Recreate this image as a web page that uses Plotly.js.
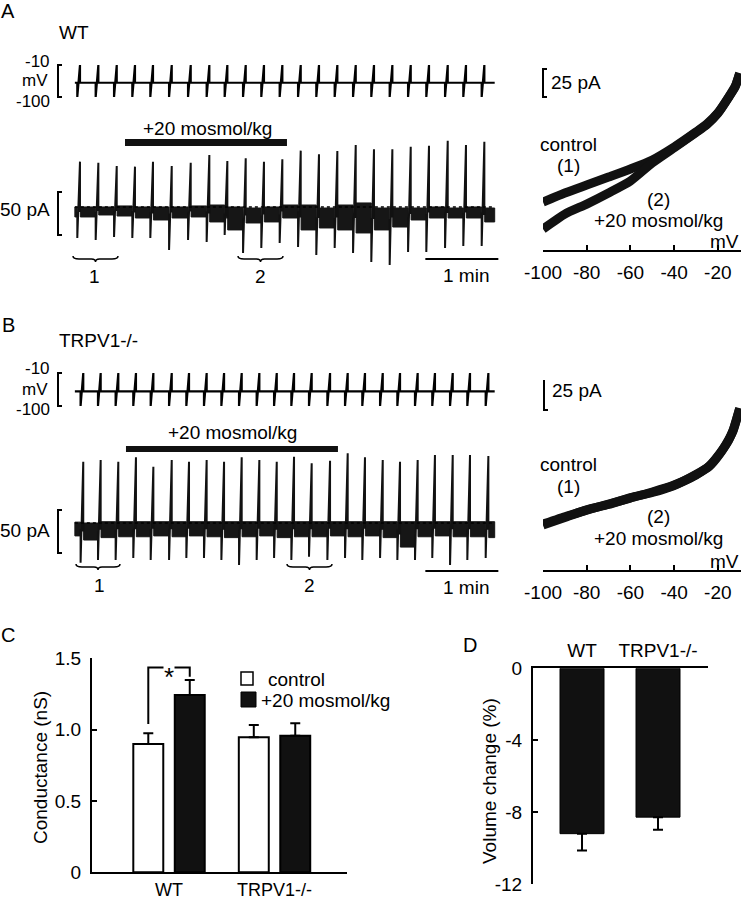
<!DOCTYPE html>
<html><head><meta charset="utf-8">
<script src="https://cdn.plot.ly/plotly-3.0.1.min.js"></script>
<style>html,body{margin:0;padding:0;background:#fff}#chart{width:741px;height:900px}</style>
</head><body><div id="chart"></div>
<script>
// ---------------- data ----------------
// Panel A (WT) – ramp sweeps, time of ramp end (s)
const sweepTimesA = [4.2,19.3,34.4,49.4,64.2,79.6,95.2,110.5,125.3,140.4,155.4,170.5,185.6,200.6,215.7,230.8,245.8,260.9,276.0,291.0,306.4,321.4,336.5];
const peakA   = [52.7,51.5,47.7,46.9,52.7,47.7,51.5,60.5,53.5,56.6,52.7,55.5,65.5,61.3,65.1,72.1,67.1,67.1,70.1,71.3,77.1,72.1,75.9];
const troughA = [-36,-38.4,-34.9,-36,-36,-50,-38.4,-40.7,-32.6,-53.5,-47.7,-41.9,-46.5,-55.8,-47.7,-53.5,-64,-67.4,-52.3,-52.3,-47.7,-45.3,-45.3];
// holding-current band between sweeps (pA): interval 0 = before sweep 1
const bandTopA = [0,0,0,1.2,0,0,0,1.2,2.3,0,-1.2,0,2.3,2.3,-1.2,2.3,4.7,-1.2,-1.2,-1.2,0,-1.2,0,-1.2];
const bandBotA = [-11.6,-11.6,-9.3,-10.5,-12.8,-15.1,-12.8,-11.6,-17.4,-26.7,-18.6,-17.4,-12.8,-26.7,-24.4,-26.7,-30.2,-26.7,-23.3,-15.1,-12.8,-12.8,-12.8,-17.4];
// Panel B (TRPV1-/-)
const sweepTimesB = [6.9,21.2,35.7,50.2,64.5,79.6,93.8,108.3,122.6,137.1,151.6,165.9,180.1,194.6,209.7,224.2,238.4,253.0,267.2,281.7,295.9,310.5,324.7,339.8];
const peakB   = [71.3,73.3,71.3,76.4,65.5,73.3,71.3,73.3,71.3,76.4,73.3,71.3,77.1,69.4,72.4,81,76.4,73.3,71.3,73.3,79.1,79.1,79.1,77.9];
const troughB = [-46.2,-43,-43,-40.7,-43,-43,-40.7,-40.7,-43,-48.8,-43,-40.7,-43,-39.2,-43,-40.7,-43,-40.7,-43,-43,-40.7,-48.8,-43,-40.7];
const bandTopB = [1,0,1.5,1.5,1.5,1.5,1.5,1.5,1.5,1.5,1.5,1.5,1.5,1.5,1.5,1.5,1.5,1.5,1.5,1.5,1.5,1.5,1.5,1.5,1.5];
const bandBotB = [-15,-19.8,-17,-16,-16,-15,-16,-15,-16,-17,-16,-15,-17,-16,-16,-15,-16,-15,-17,-28,-16,-15,-16,-16,-17];
// voltage protocol (mV)
const holdingMV = -60, stepMV = -100, rampEndMV = -10;
const traceEnd = 345;            // s
const rampDur = 2.2;             // s
const hyperA = [41.2, 174.3], hyperB = [42.0, 216.2];   // +20 mosmol/kg application (s)
const minBar = [288, 348];       // 1 min scale bar (s)

// I-V curves (mV, pA)
const ivMV_A      = [-100,-90,-80,-70,-60,-50,-40,-30,-25,-20,-15,-12,-10];
const ivControlA  = [-28.6,-20.5,-13.4,-6.3,0.9,8.9,20.5,33.9,41.1,50.9,65.2,75.0,86.6];
const ivHyperA    = [-52.7,-39.3,-30.4,-20.5,-9.8,6.3,19.8,33.5,40.5,50.5,65.0,74.5,86.0];
const ivMV_B      = [-100,-89,-80,-70,-60,-50,-40,-30,-24,-19,-15,-13,-10];
const ivControlB  = [-22.4,-17.1,-13.2,-9.2,-5.3,-1.3,3.3,9.9,15.8,24.3,32.9,39.5,53.9];
const ivHyperB    = [-23.0,-17.5,-13.0,-9.5,-5.0,-1.6,3.0,10.2,15.5,24.0,33.3,39.0,53.5];
const ivTicks     = [-100,-80,-60,-40,-20];
const ivTickText  = ['-100','-80','-60','-40','-20'];

// Panel C – conductance (nS)
const groups = ['WT','TRPV1-/-'];
const condControl    = [0.899, 0.946];
const condControlErr = [0.075, 0.086];
const condHyper      = [1.243, 0.957];
const condHyperErr   = [0.105, 0.087];
const condTicks = [0, 0.5, 1.0, 1.5];
const condTickText = ['0','0.5','1.0','1.5'];
// Panel D – volume change (%)
const volChange    = [-9.2, -8.28];
const volChangeErr = [0.93, 0.70];
const volTicks = [0,-4,-8,-12];
const volTickText = ['0','-4','-8','-12'];

// ---------------- helpers ----------------
const W = 741, H = 900;
const PX = v => v / W, PY = v => 1 - v / H;
const dom = (top, bot) => [PY(bot), PY(top)];
const K = '#000';
const FONT = 'Liberation Sans, Arial, Helvetica, sans-serif';

function voltageTrace(times, yaxis){
  const x = [0], y = [holdingMV];
  times.forEach(t => { x.push(t - rampDur, t - rampDur, t, t); y.push(holdingMV, stepMV, rampEndMV, holdingMV); });
  x.push(traceEnd); y.push(holdingMV);
  return {type:'scatter', mode:'lines', x, y, xaxis:'x', yaxis, line:{color:K, width:2.2}, hoverinfo:'skip'};
}
function bandTrace(times, tops, bots, yaxis){
  const starts = [0].concat(times.map(t => t + 0.3));
  const ends = times.map(t => t - rampDur).concat([traceEnd]);
  const x = [], y = [];
  starts.forEach((s, i) => { const e = ends[i]; x.push(s, e, e, s, s, null); y.push(tops[i], tops[i], bots[i], bots[i], tops[i], null); });
  return {type:'scatter', mode:'lines', x, y, xaxis:'x', yaxis, fill:'toself', fillcolor:'#161616', line:{color:'#161616', width:1}, hoverinfo:'skip'};
}
function sweepTrace(times, peaks, troughs, tops, bots, yaxis){
  const x = [], y = [];
  times.forEach((t, i) => {
    const b0 = (tops[i] + bots[i]) / 2, b1 = (tops[i+1] + bots[i+1]) / 2;
    x.push(t - rampDur, t - rampDur, t, t, null); y.push(b0, troughs[i], peaks[i], b1, null);
  });
  return {type:'scatter', mode:'lines', x, y, xaxis:'x', yaxis, line:{color:'#111', width:2}, hoverinfo:'skip'};
}
function zeroLine(yaxis){
  return {type:'scatter', mode:'lines', x:[0, traceEnd], y:[0, 0], xaxis:'x', yaxis, line:{color:K, width:1.3, dash:'dot'}, hoverinfo:'skip'};
}
function ivTrace(xs, ys, xaxis, yaxis){
  return {type:'scatter', mode:'lines', x:xs, y:ys, xaxis, yaxis, line:{color:'#111', width:9, shape:'spline', smoothing:0.6}, hoverinfo:'skip'};
}
function bracket(xpx, yref, y0, y1){
  const a = PX(xpx), b = PX(xpx + 4);
  return {type:'path', xref:'paper', yref, path:`M${b},${y0} L${a},${y0} L${a},${y1} L${b},${y1}`, line:{color:K, width:2}};
}
function brace(x0, x1, y){
  const m = (x0 + x1) / 2, X = PX, Y = PY;
  return {type:'path', xref:'paper', yref:'paper', line:{color:K, width:1.5},
    path:`M${X(x0)},${Y(y-3)} Q${X(x0)},${Y(y)} ${X(x0+6)},${Y(y)} L${X(m-4)},${Y(y)} Q${X(m)},${Y(y)} ${X(m)},${Y(y+3)} Q${X(m)},${Y(y)} ${X(m+4)},${Y(y)} L${X(x1-6)},${Y(y)} Q${X(x1)},${Y(y)} ${X(x1)},${Y(y-3)}`};
}
function ann(text, xpx, ypx, o){
  o = o || {};
  return Object.assign({text, x:PX(xpx), y:PY(ypx), xref:'paper', yref:'paper', showarrow:false,
    xanchor:o.xa || 'center', yanchor:'middle', textangle:o.angle || 0, font:{family:FONT, size:o.size || 19, color:K}}, o.extra || {});
}

// ---------------- traces ----------------
const traces = [
  voltageTrace(sweepTimesA, 'y'),
  bandTrace(sweepTimesA, bandTopA, bandBotA, 'y2'),
  sweepTrace(sweepTimesA, peakA, troughA, bandTopA, bandBotA, 'y2'),
  zeroLine('y2'),
  voltageTrace(sweepTimesB, 'y3'),
  bandTrace(sweepTimesB, bandTopB, bandBotB, 'y4'),
  sweepTrace(sweepTimesB, peakB, troughB, bandTopB, bandBotB, 'y4'),
  zeroLine('y4'),
  ivTrace(ivMV_A, ivControlA, 'x2', 'y5'),
  ivTrace(ivMV_A, ivHyperA, 'x2', 'y5'),
  ivTrace(ivMV_B, ivControlB, 'x3', 'y6'),
  ivTrace(ivMV_B, ivHyperB, 'x3', 'y6'),
  {type:'bar', name:'control', x:[0,1], y:condControl, xaxis:'x4', yaxis:'y7', width:0.284, offset:-0.3385,
   marker:{color:'#fff', line:{color:K, width:2}},
   error_y:{type:'data', symmetric:false, array:condControlErr, arrayminus:[0,0], color:K, thickness:2, width:5}, hoverinfo:'skip'},
  {type:'bar', name:'+20 mosmol/kg', x:[0,1], y:condHyper, xaxis:'x4', yaxis:'y7', width:0.284, offset:0.0545,
   marker:{color:'#111', line:{color:K, width:2}},
   error_y:{type:'data', symmetric:false, array:condHyperErr, arrayminus:[0,0], color:K, thickness:2, width:5}, hoverinfo:'skip'},
  {type:'scatter', mode:'lines', x:[-0.1965,-0.1965,0.1965,0.1965], y:[1.04,1.435,1.435,1.37], xaxis:'x4', yaxis:'y7',
   line:{color:K, width:2}, hoverinfo:'skip'},
  {type:'bar', x:[0,1], y:volChange, xaxis:'x5', yaxis:'y8', width:0.579, offset:-0.2895,
   marker:{color:'#111', line:{color:K, width:1}},
   error_y:{type:'data', symmetric:false, array:[0,0], arrayminus:volChangeErr, color:K, thickness:2, width:5}, hoverinfo:'skip'}
];

const axLine = {showline:true, linecolor:K, linewidth:2, showgrid:false, zeroline:false, mirror:false,
  ticks:'inside', ticklen:5, tickwidth:2, tickcolor:K, tickfont:{family:FONT, size:19, color:K}};

const layout = {
  width:W, height:H, margin:{l:0,r:0,t:0,b:0}, showlegend:false,
  paper_bgcolor:'#fff', plot_bgcolor:'rgba(0,0,0,0)', barmode:'overlay',
  font:{family:FONT, size:19, color:K},
  xaxis:{domain:[PX(70), PX(502)], range:[-4, 351], visible:false, anchor:'y'},
  yaxis:{domain:dom(60,102), range:[-114.1, 4.06], visible:false, anchor:'x'},
  yaxis2:{domain:dom(135,272), range:[-75.6, 83.7], visible:false, anchor:'x'},
  yaxis3:{domain:dom(368,411), range:[-113.6, 3.6], visible:false, anchor:'x'},
  yaxis4:{domain:dom(440,590), range:[-77.9, 96.5], visible:false, anchor:'x'},
  xaxis2:Object.assign({}, axLine, {domain:[PX(543), 1], range:[-100, -9.4], anchor:'y5', tickvals:ivTicks, ticktext:ivTickText, ticklabelstandoff:4}),
  yaxis5:{domain:dom(60,250), range:[-71.4, 98.2], visible:false, anchor:'x2'},
  xaxis3:Object.assign({}, axLine, {domain:[PX(543), 1], range:[-100, -9.4], anchor:'y6', tickvals:ivTicks, ticktext:ivTickText, ticklabelstandoff:4}),
  yaxis6:{domain:dom(380,570), range:[-52.6, 72.4], visible:false, anchor:'x3'},
  xaxis4:Object.assign({}, axLine, {domain:[PX(92), PX(347)], range:[-0.73, 1.687], anchor:'y7', ticks:'', tickvals:[0,1], ticktext:groups, ticklabelstandoff:0,
    tickfont:{family:FONT, size:18, color:K}}),
  yaxis7:Object.assign({}, axLine, {domain:dom(658.3,872.3), range:[0, 1.5], anchor:'x4', tickvals:condTicks, ticktext:condTickText, ticklabelstandoff:5}),
  xaxis5:Object.assign({}, axLine, {domain:[PX(533), PX(708)], range:[-0.645, 1.658], anchor:'y8', side:'top', ticks:'', tickvals:[0,1], ticktext:groups, ticklabelstandoff:2}),
  yaxis8:Object.assign({}, axLine, {domain:dom(668.3,884), range:[-12, 0], anchor:'x5', tickvals:volTicks, ticktext:volTickText, ticklabelstandoff:5}),
  shapes:[
    // scale brackets
    bracket(58, 'y', stepMV, rampEndMV),
    bracket(58, 'y2', -32.6, 17.4),
    bracket(58, 'y3', stepMV, rampEndMV),
    bracket(58, 'y4', -34.9, 15.1),
    bracket(543, 'y5', 65.2, 90.2),
    bracket(544, 'y6', 52.6, 77.6),
    // application bars
    {type:'rect', xref:'x', yref:'paper', x0:hyperA[0], x1:hyperA[1], y0:PY(146), y1:PY(139), fillcolor:'#111', line:{width:0}},
    {type:'rect', xref:'x', yref:'paper', x0:hyperB[0], x1:hyperB[1], y0:PY(452), y1:PY(446), fillcolor:'#111', line:{width:0}},
    // 1 min bars
    {type:'line', xref:'x', yref:'paper', x0:minBar[0], x1:minBar[1], y0:PY(259), y1:PY(259), line:{color:K, width:2}},
    {type:'line', xref:'x', yref:'paper', x0:minBar[0], x1:minBar[1], y0:PY(571), y1:PY(571), line:{color:K, width:2}},
    // braces
    brace(73, 118, 259), brace(238, 283, 259),
    brace(76, 120, 567), brace(287, 332, 567),
    // legend C
    {type:'rect', xref:'paper', yref:'paper', x0:PX(241), x1:PX(253), y0:PY(685), y1:PY(672), fillcolor:'#fff', line:{color:K, width:1.5}},
    {type:'rect', xref:'paper', yref:'paper', x0:PX(241), x1:PX(256), y0:PY(707), y1:PY(692), fillcolor:'#111', line:{color:K, width:1}}
  ],
  annotations:[
    ann('A', 8, 11, {size:20}),
    ann('WT', 57, 32, {xa:'left'}),
    ann('-10', 52, 61, {xa:'right', size:17}), ann('mV', 50, 81, {xa:'right', size:17}), ann('-100', 52, 101, {xa:'right', size:17}),
    ann('+20 mosmol/kg', 207, 128),
    ann('50 pA', 52, 209, {xa:'right'}),
    ann('1', 95, 277), ann('2', 260, 277), ann('1 min', 466, 275),
    ann('25 pA', 549, 82, {xa:'left'}),
    ann('control', 568, 144), ann('(1)', 568, 166), ann('(2)', 658, 199), ann('+20 mosmol/kg', 658, 221), ann('mV', 724, 241),
    ann('B', 8, 325, {size:20}),
    ann('TRPV1-/-', 57, 341, {xa:'left'}),
    ann('-10', 52, 369, {xa:'right', size:17}), ann('mV', 50, 389, {xa:'right', size:17}), ann('-100', 52, 409, {xa:'right', size:17}),
    ann('+20 mosmol/kg', 232, 433),
    ann('50 pA', 52, 530, {xa:'right'}),
    ann('1', 99, 585), ann('2', 309, 585), ann('1 min', 466, 587),
    ann('25 pA', 550, 391, {xa:'left'}),
    ann('control', 568, 464), ann('(1)', 568, 486), ann('(2)', 658, 516), ann('+20 mosmol/kg', 658, 538), ann('mV', 724, 561),
    ann('C', 8, 635, {size:20}),
    ann('Conductance (nS)', 40, 768, {angle:-90}),
    ann('control', 266, 679, {xa:'left'}),
    ann('+20 mosmol/kg', 259, 700, {xa:'left'}),
    {text:'*', x:0, y:1.435, xref:'x4', yref:'y7', showarrow:false, yshift:-9, bgcolor:'#fff', borderpad:0,
     font:{family:FONT, size:26, color:K}},
    ann('D', 470, 645, {size:20}),
    ann('Volume change (%)', 489, 781, {angle:-90})
  ]
};

Plotly.newPlot('chart', traces, layout, {staticPlot:true, displayModeBar:false});
</script>
</body></html>
